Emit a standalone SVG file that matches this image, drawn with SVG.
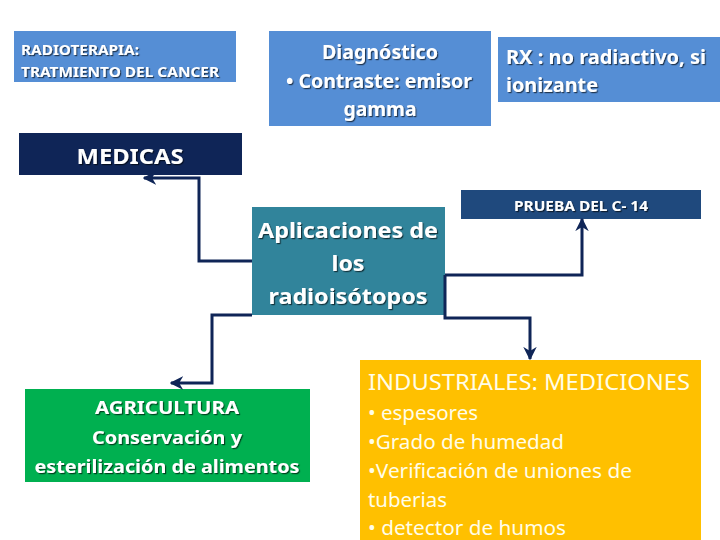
<svg xmlns="http://www.w3.org/2000/svg" width="720" height="540" viewBox="0 0 720 540">
<defs>
<filter id="sh" x="-10%" y="-30%" width="120%" height="160%">
<feDropShadow dx="1.2" dy="1.2" stdDeviation="0.5" flood-color="#000" flood-opacity="0.6"/>
</filter>
<marker id="ah" viewBox="0 0 10 10" refX="9" refY="5" markerWidth="4.5" markerHeight="4.5" orient="auto" markerUnits="strokeWidth">
<path d="M0,0 L10,5 L0,10 L3,5 z" fill="#0F2557"/>
</marker>
</defs>
<style>
text{font-family:"Noto Sans","Open Sans","DejaVu Sans",sans-serif;fill:#fff}
.s{filter:url(#sh)}
.b{font-weight:bold}
.c{text-anchor:middle}
.y{fill:#FFFDE8}
.conn{fill:none;stroke:#0F2557;stroke-width:3;marker-end:url(#ah)}
</style>
<rect width="720" height="540" fill="#fff"/>
<g id="radioterapia">
<rect x="14" y="31" width="222" height="51" fill="#558ED5"/>
<text class="s b" x="21" y="55" font-size="13.5" textLength="118" lengthAdjust="spacingAndGlyphs">RADIOTERAPIA:</text>
<text class="s b" x="21" y="77" font-size="13.5" textLength="198" lengthAdjust="spacingAndGlyphs">TRATMIENTO DEL CANCER</text>
</g>
<g id="diagnostico">
<rect x="269" y="31" width="222" height="95" fill="#558ED5"/>
<text class="s b c" x="380" y="59" font-size="19" textLength="116" lengthAdjust="spacingAndGlyphs">Diagnóstico</text>
<text class="s b c" x="379" y="88" font-size="19" textLength="186" lengthAdjust="spacingAndGlyphs">• Contraste: emisor</text>
<text class="s b c" x="380" y="116" font-size="19" textLength="73" lengthAdjust="spacingAndGlyphs">gamma</text>
</g>
<g id="rx">
<rect x="498" y="37" width="222" height="65" fill="#558ED5"/>
<text class="s b" x="506" y="64" font-size="19" textLength="200" lengthAdjust="spacingAndGlyphs">RX : no radiactivo, si</text>
<text class="s b" x="506" y="92" font-size="19" textLength="92" lengthAdjust="spacingAndGlyphs">ionizante</text>
</g>
<g id="medicas">
<rect x="19" y="133" width="223" height="42" fill="#0F2557"/>
<text class="s b c" x="130" y="164" font-size="22" textLength="107" lengthAdjust="spacingAndGlyphs">MEDICAS</text>
</g>
<g id="aplicaciones">
<rect x="252" y="207" width="193" height="108" fill="#31849B"/>
<text class="s b c" x="348" y="238" font-size="22" textLength="180" lengthAdjust="spacingAndGlyphs">Aplicaciones de</text>
<text class="s b c" x="348" y="271" font-size="22" textLength="33" lengthAdjust="spacingAndGlyphs">los</text>
<text class="s b c" x="348" y="304" font-size="22" textLength="159" lengthAdjust="spacingAndGlyphs">radioisótopos</text>
</g>
<g id="prueba">
<rect x="461" y="190" width="240" height="29" fill="#1F497D"/>
<text class="s b c" x="581" y="211" font-size="13.5" textLength="134" lengthAdjust="spacingAndGlyphs">PRUEBA DEL C- 14</text>
</g>
<g id="agricultura">
<rect x="25" y="389" width="285" height="93" fill="#00B050"/>
<text class="s b c" x="167" y="414" font-size="18" textLength="144" lengthAdjust="spacingAndGlyphs">AGRICULTURA</text>
<text class="s b c" x="167" y="444" font-size="18" textLength="150" lengthAdjust="spacingAndGlyphs">Conservación y</text>
<text class="s b c" x="167" y="473" font-size="18" textLength="265" lengthAdjust="spacingAndGlyphs">esterilización de alimentos</text>
</g>
<g id="industriales">
<rect x="360" y="360" width="341" height="180" fill="#FFC000"/>
<text class="y" x="368" y="390" font-size="22" textLength="322" lengthAdjust="spacingAndGlyphs">INDUSTRIALES: MEDICIONES</text>
<text class="y" x="368" y="420" font-size="19" textLength="110" lengthAdjust="spacingAndGlyphs">• espesores</text>
<text class="y" x="368" y="449" font-size="19" textLength="196" lengthAdjust="spacingAndGlyphs">•Grado de humedad</text>
<text class="y" x="368" y="478" font-size="19" textLength="264" lengthAdjust="spacingAndGlyphs">•Verificación de uniones de</text>
<text class="y" x="368" y="507" font-size="19" textLength="79" lengthAdjust="spacingAndGlyphs">tuberias</text>
<text class="y" x="368" y="535" font-size="19" textLength="198" lengthAdjust="spacingAndGlyphs">• detector de humos</text>
</g>
<g id="connectors">
<path class="conn" d="M252,261 H199 V178 H144"/>
<path class="conn" d="M252,315 H212 V383 H171"/>
<path class="conn" d="M445,275 H582 V219"/>
<path class="conn" d="M445,275 V318 H530 V359"/>
</g>
</svg>
